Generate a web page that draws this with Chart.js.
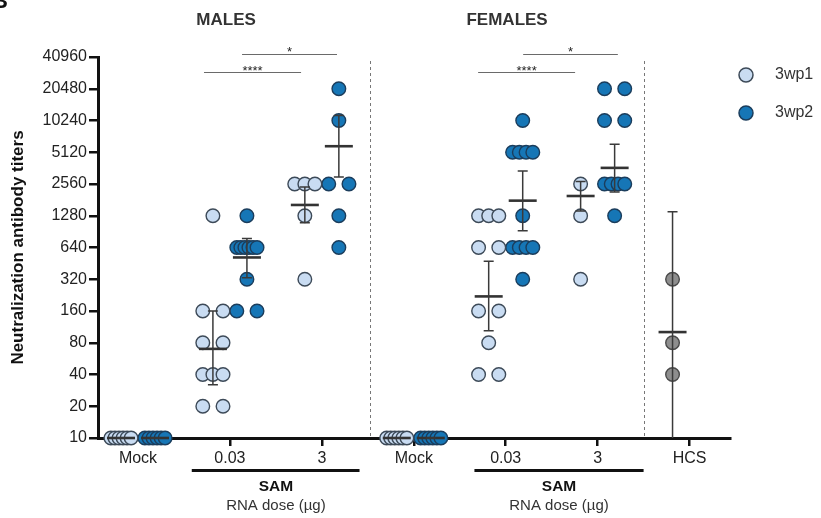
<!DOCTYPE html>
<html>
<head>
<meta charset="utf-8">
<script src="https://cdn.jsdelivr.net/npm/chart.js@4/dist/chart.umd.min.js"></script>
<style>
  html, body { margin: 0; padding: 0; background: #fff; }
  #wrap { width: 821px; height: 518px; position: relative; }
</style>
</head>
<body>
<div id="wrap"><canvas id="chart" width="821" height="518"></canvas></div>
<script>
// categories along the x axis (males: 0-2, females: 3-5, HCS: 6)
const categories = ['Mock', '0.03', '3', 'Mock', '0.03', '3', 'HCS'];
const yTicks = [10, 20, 40, 80, 160, 320, 640, 1280, 2560, 5120, 10240, 20480, 40960];

// individual titers, one list per category
const wp1Values = [
  [10, 10, 10, 10, 10, 10],
  [1280, 160, 160, 80, 80, 40, 40, 40, 20, 20],
  [2560, 2560, 2560, 1280, 320],
  [10, 10, 10, 10, 10, 10],
  [1280, 1280, 1280, 640, 640, 160, 160, 80, 40, 40],
  [2560, 1280, 320]
];
const wp2Values = [
  [10, 10, 10, 10, 10, 10],
  [1280, 640, 640, 640, 640, 640, 640, 320, 160, 160],
  [20480, 10240, 2560, 2560, 1280, 640],
  [10, 10, 10, 10, 10, 10],
  [10240, 5120, 5120, 5120, 5120, 1280, 640, 640, 640, 640, 320],
  [20480, 20480, 10240, 10240, 2560, 2560, 2560, 2560, 1280]
];
const hcsValues = [320, 80, 40];

// geometric means and 95% CI
const wp1Mean = [10, 70, 1620, 10, 220, 1970];
const wp1Low  = [10, 32, 1100, 10, 104, 1420];
const wp1High = [10, 160, 2400, 10, 474, 2700];
const wp2Mean = [10, 515, 5840, 10, 1780, 3640];
const wp2Low  = [10, 330, 2990, 10, 925, 2150];
const wp2High = [10, 780, 11400, 10, 3400, 6100];
const hcsMean = 101, hcsLow = 5, hcsHigh = 1400;

// significance brackets: [from x, to x, level, label]
const brackets = [
  [0.718, 1.774, 29500, '****'],
  [1.132, 2.165, 43700, '*'],
  [3.70, 4.755, 29500, '****'],
  [4.19, 5.22, 43700, '*']
];

const FONT = 'Arial, "Liberation Sans", sans-serif';
const OFF = 0.185;

// spread equal values side by side around the group centre
function swarm(values, center) {
  const counts = {};
  values.forEach(v => { counts[v] = (counts[v] || 0) + 1; });
  const seen = {};
  return values.map(v => {
    const n = counts[v];
    const k = seen[v] = (seen[v] === undefined ? 0 : seen[v] + 1);
    const w = n > 1 ? 0.22 : 0;
    const dx = n > 1 ? -w / 2 + k * w / (n - 1) : 0;
    return { x: center + dx, y: v };
  });
}

const wp1Points = [], wp2Points = [], meanPoints = [], bars = [];
wp1Values.forEach((vals, i) => {
  wp1Points.push(...swarm(vals, i - OFF));
  meanPoints.push({ x: i - OFF, y: wp1Mean[i] });
  bars.push([i - OFF, wp1Low[i], wp1High[i]]);
});
wp2Values.forEach((vals, i) => {
  wp2Points.push(...swarm(vals, i + OFF));
  meanPoints.push({ x: i + OFF, y: wp2Mean[i] });
  bars.push([i + OFF, wp2Low[i], wp2High[i]]);
});
const hcsPoints = swarm(hcsValues, 6 - OFF);
meanPoints.push({ x: 6 - OFF, y: hcsMean });
bars.push([6 - OFF, hcsLow, hcsHigh]);

const extras = {
  id: 'extras',
  beforeDatasetsDraw(chart) {
    const { ctx, chartArea: a, scales: { x, y } } = chart;
    ctx.save();
    // group separators
    ctx.strokeStyle = '#777';
    ctx.lineWidth = 1;
    ctx.setLineDash([3, 3]);
    [2.52, 5.5].forEach(u => {
      const px = Math.round(x.getPixelForValue(u)) + 0.5;
      ctx.beginPath();
      ctx.moveTo(px, a.top + 4);
      ctx.lineTo(px, a.bottom);
      ctx.stroke();
    });
    ctx.restore();
  },
  afterDatasetsDraw(chart) {
    const { ctx, chartArea: a, scales: { x, y } } = chart;
    ctx.save();
    // error bars
    ctx.strokeStyle = '#3a3a3a';
    ctx.lineWidth = 1.5;
    bars.forEach(([u, lo, hi]) => {
      const px = x.getPixelForValue(u);
      const py1 = Math.min(y.getPixelForValue(lo), a.bottom);
      const py2 = y.getPixelForValue(hi);
      ctx.beginPath();
      ctx.moveTo(px, py1); ctx.lineTo(px, py2);
      ctx.moveTo(px - 5, py2); ctx.lineTo(px + 5, py2);
      if (py1 < a.bottom) { ctx.moveTo(px - 5, py1); ctx.lineTo(px + 5, py1); }
      ctx.stroke();
    });
    // brackets
    ctx.strokeStyle = '#6a6a6a';
    ctx.lineWidth = 1;
    ctx.fillStyle = '#222';
    ctx.textAlign = 'center';
    ctx.textBaseline = 'alphabetic';
    ctx.font = '13px ' + FONT;
    brackets.forEach(([u1, u2, lvl, txt]) => {
      const py = Math.round(y.getPixelForValue(lvl)) + 0.5;
      ctx.beginPath();
      ctx.moveTo(x.getPixelForValue(u1), py);
      ctx.lineTo(x.getPixelForValue(u2), py);
      ctx.stroke();
      ctx.fillText(txt, x.getPixelForValue((u1 + u2) / 2), py + (txt.length > 1 ? 2.5 : 1.5));
    });
    ctx.restore();
  },
  afterDraw(chart) {
    const { ctx, scales: { x } } = chart;
    ctx.save();
    ctx.fillStyle = '#111';
    ctx.font = 'bold 22px ' + FONT;
    ctx.textAlign = 'left';
    ctx.textBaseline = 'alphabetic';
    ctx.fillText('B', -8, 8);

    ctx.fillStyle = '#333';
    ctx.textAlign = 'center';
    ctx.textBaseline = 'middle';
    ctx.font = 'bold 17px ' + FONT;
    ctx.fillText('MALES', x.getPixelForValue(0.958), 20);
    ctx.fillText('FEMALES', x.getPixelForValue(4.015), 20);

    // SAM dose brackets under the axis
    [[0.585, 2.41, 1.5], [3.66, 5.5, 4.58]].forEach(([u1, u2, uc]) => {
      ctx.fillStyle = '#111';
      ctx.fillRect(x.getPixelForValue(u1), 469, x.getPixelForValue(u2) - x.getPixelForValue(u1), 3);
      ctx.font = 'bold 15.5px ' + FONT;
      ctx.fillText('SAM', x.getPixelForValue(uc), 487);
      ctx.font = '15px ' + FONT;
      ctx.fillStyle = '#333';
      ctx.fillText('RNA dose (\u00b5g)', x.getPixelForValue(uc), 506);
    });

    // legend
    [['3wp1', '#c9dcf2', '#3d4a58', 75], ['3wp2', '#1676b6', '#1b3d5c', 113]].forEach(([t, f, s, py]) => {
      ctx.beginPath();
      ctx.arc(746, py, 7, 0, Math.PI * 2);
      ctx.fillStyle = f; ctx.fill();
      ctx.lineWidth = 1.5; ctx.strokeStyle = s; ctx.stroke();
      ctx.fillStyle = '#333';
      ctx.font = '16px ' + FONT;
      ctx.textAlign = 'left';
      ctx.fillText(t, 775, py);
    });
    ctx.restore();
  }
};

const pointStyle = (fill, border) => ({
  backgroundColor: fill, borderColor: border,
  pointRadius: 6.8, pointBorderWidth: 1.4, pointHoverRadius: 6.8,
  clip: false, order: 1, showLine: false
});

new Chart(document.getElementById('chart'), {
  type: 'scatter',
  data: {
    datasets: [
      { label: 'mean', data: meanPoints, pointStyle: 'line', pointRadius: 14,
        pointBorderWidth: 2.6, borderColor: '#333', backgroundColor: '#333',
        clip: false, order: 0, showLine: false },
      Object.assign({ label: '3wp1', data: wp1Points }, pointStyle('#c9dcf2', '#3d4a58')),
      Object.assign({ label: '3wp2', data: wp2Points }, pointStyle('#1676b6', '#1b3d5c')),
      Object.assign({ label: 'HCS', data: hcsPoints }, pointStyle('#8e8e8e', '#4a4a4a'))
    ]
  },
  options: {
    responsive: false,
    animation: false,
    devicePixelRatio: 1,
    layout: { padding: { left: 0, right: 91, top: 57, bottom: 0 } },
    plugins: { legend: { display: false }, tooltip: { enabled: false } },
    scales: {
      x: {
        type: 'linear', min: -0.435, max: 6.44,
        afterBuildTicks: s => { s.ticks = categories.map((_, i) => ({ value: i })); },
        afterFit: s => { s.height = 80; },
        ticks: {
          callback: v => categories[v], autoSkip: false, maxRotation: 0,
          color: '#222', font: { family: FONT, size: 16 }, padding: 3
        },
        grid: {
          drawOnChartArea: false, tickLength: 8, lineWidth: 2.5,
          color: c => (c.index === 0 ? 'rgba(0,0,0,0)' : '#111'),
          tickWidth: 2.5
        },
        border: { color: '#111', width: 3 }
      },
      y: {
        type: 'logarithmic', min: 10, max: 40960,
        afterBuildTicks: s => { s.ticks = yTicks.map(v => ({ value: v })); },
        afterFit: s => { s.width = 98; },
        ticks: {
          callback: v => String(v), autoSkip: false,
          color: '#222', font: { family: FONT, size: 16 }, padding: 2
        },
        grid: { drawOnChartArea: false, tickLength: 9, color: '#111', lineWidth: 2.5 },
        border: { color: '#111', width: 3 },
        title: {
          display: true, text: 'Neutralization antibody titers', color: '#111',
          font: { family: FONT, size: 17, weight: 'bold' }, padding: { top: 8, bottom: 0 }
        }
      }
    }
  },
  plugins: [extras]
});
</script>
</body>
</html>
